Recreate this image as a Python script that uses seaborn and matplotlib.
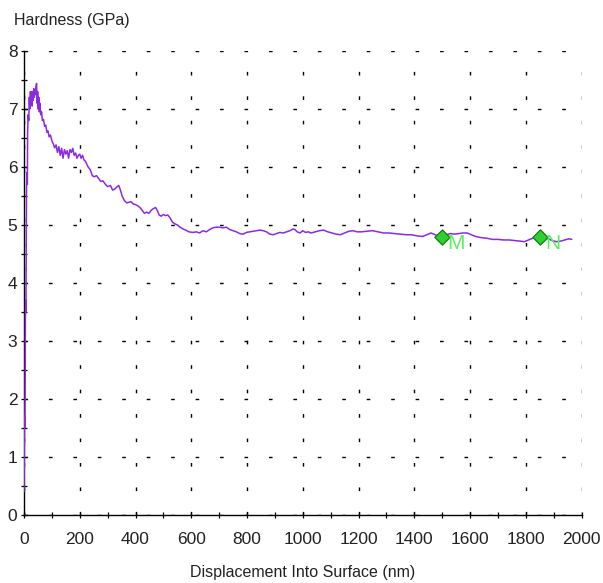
import matplotlib
matplotlib.use("Agg")
import matplotlib.pyplot as plt
from matplotlib.ticker import MultipleLocator
import seaborn as sns
import pandas as pd

# Hardness profile vs. indentation depth
depth_nm = [
    0, 1, 2, 3, 4, 5, 6, 7, 8, 9, 10, 12, 13, 15, 17, 19, 21, 23, 25, 27, 29,
    31, 33, 35, 37, 39, 41, 43, 45, 47, 49, 51, 53, 55, 57, 60, 63, 66, 70, 74,
    78, 82, 86, 90, 95, 100, 105, 110, 115, 120, 125, 130, 135, 140, 145, 150,
    155, 160, 165, 170, 175, 180, 185, 190, 195, 200, 205, 210, 215, 220, 225,
    230, 238, 245, 252, 260, 268, 275, 283, 292, 300, 310, 318, 326, 334, 340,
    346, 352, 360, 368, 376, 384, 392, 400, 408, 416, 424, 432, 440, 448, 456,
    464, 472, 478, 485, 492, 500, 508, 516, 524, 532, 540, 550, 560, 570, 580,
    592, 605, 618, 630, 642, 654, 666, 678, 690, 702, 714, 726, 738, 750, 762,
    774, 786, 798, 810, 822, 834, 846, 858, 870, 882, 894, 906, 918, 930, 942,
    954, 966, 972, 980, 990, 1000, 1010, 1020, 1030, 1045, 1060, 1075, 1090,
    1105, 1120, 1135, 1150, 1165, 1180, 1195, 1210, 1230, 1250, 1270, 1290,
    1310, 1330, 1350, 1370, 1390, 1410, 1430, 1445, 1460, 1475, 1490, 1500,
    1515, 1530, 1545, 1560, 1575, 1590, 1605, 1620, 1640, 1660, 1680, 1700,
    1720, 1740, 1760, 1780, 1795, 1810, 1825, 1840, 1850, 1865, 1880, 1895,
    1910, 1925, 1940, 1955, 1965,
]
hardness_gpa = [
    0.40, 0.90, 1.70, 1.50, 2.00, 3.40, 3.70, 3.50, 4.80, 5.60, 5.90, 5.70,
    6.60, 6.90, 6.80, 7.20, 7.00, 7.30, 7.10, 7.30, 7.05, 7.30, 7.15, 7.35,
    7.20, 7.30, 7.25, 7.38, 7.44, 7.10, 7.30, 7.00, 7.20, 6.95, 7.10, 6.90,
    6.95, 6.80, 6.82, 6.70, 6.72, 6.60, 6.62, 6.52, 6.55, 6.45, 6.40, 6.33,
    6.38, 6.25, 6.35, 6.20, 6.32, 6.15, 6.30, 6.22, 6.28, 6.15, 6.30, 6.25,
    6.32, 6.20, 6.24, 6.15, 6.20, 6.22, 6.15, 6.20, 6.12, 6.10, 6.05, 6.00,
    5.95, 5.85, 5.83, 5.85, 5.80, 5.75, 5.76, 5.70, 5.66, 5.68, 5.60, 5.62,
    5.66, 5.68, 5.60, 5.50, 5.42, 5.38, 5.39, 5.40, 5.36, 5.35, 5.33, 5.30,
    5.25, 5.20, 5.22, 5.20, 5.25, 5.28, 5.30, 5.25, 5.17, 5.15, 5.18, 5.16,
    5.17, 5.12, 5.05, 5.02, 5.00, 4.96, 4.93, 4.91, 4.88, 4.87, 4.88, 4.86,
    4.90, 4.88, 4.92, 4.95, 4.96, 4.96, 4.95, 4.96, 4.92, 4.90, 4.88, 4.85,
    4.84, 4.87, 4.88, 4.89, 4.90, 4.91, 4.90, 4.88, 4.84, 4.83, 4.85, 4.87,
    4.86, 4.88, 4.90, 4.93, 4.92, 4.88, 4.86, 4.90, 4.87, 4.88, 4.86, 4.88,
    4.90, 4.91, 4.88, 4.86, 4.84, 4.83, 4.86, 4.89, 4.90, 4.88, 4.88, 4.89,
    4.90, 4.88, 4.86, 4.86, 4.85, 4.84, 4.83, 4.83, 4.81, 4.80, 4.83, 4.86,
    4.83, 4.80, 4.79, 4.83, 4.85, 4.84, 4.85, 4.86, 4.86, 4.83, 4.80, 4.78,
    4.77, 4.75, 4.75, 4.74, 4.74, 4.73, 4.72, 4.71, 4.74, 4.77, 4.79, 4.79,
    4.78, 4.76, 4.73, 4.71, 4.72, 4.74, 4.76, 4.75,
]

# Marked points on the curve
marker_labels = ["M", "N"]
marker_depth = [1500, 1850]
marker_hardness = [4.79, 4.79]

x_ticks = [0, 200, 400, 600, 800, 1000, 1200, 1400, 1600, 1800, 2000]
y_ticks = [0, 1, 2, 3, 4, 5, 6, 7, 8]

curve = pd.DataFrame({"depth": depth_nm, "hardness": hardness_gpa})
marks = pd.DataFrame({"depth": marker_depth, "hardness": marker_hardness,
                      "label": marker_labels})

sns.set_style("ticks")
plt.rcParams["font.family"] = ["Liberation Sans", "DejaVu Sans"]
text_color = "#222222"

fig = plt.figure(figsize=(6.03, 5.83), dpi=100)
ax = fig.add_axes([24 / 603, 1 - 514.7 / 583, (581.5 - 24) / 603,
                   (514.7 - 51) / 583])

sns.lineplot(data=curve, x="depth", y="hardness", ax=ax, sort=False,
             estimator=None, color="#8a2be2", linewidth=1.1, zorder=3)
sns.scatterplot(data=marks, x="depth", y="hardness", ax=ax, marker="D",
                s=60, color="#2fcf2f", edgecolor="#137a13", linewidth=0.9,
                zorder=4)
for _, r in marks.iterrows():
    ax.annotate(r["label"], (r["depth"], r["hardness"]),
                xytext=(4, -4.5), textcoords="offset points",
                ha="left", va="center", fontsize=15, color="#5fee5f",
                zorder=5)

ax.set_xlim(0, 2000)
ax.set_ylim(0, 8)
ax.set_xticks(x_ticks)
ax.set_yticks(y_ticks)
ax.xaxis.set_minor_locator(MultipleLocator(100))
ax.yaxis.set_minor_locator(MultipleLocator(0.5))
ax.tick_params(which="both", direction="inout", length=4.5, width=0.9,
               color="black")
ax.tick_params(axis="x", which="major", pad=10, labelsize=12.5,
               labelcolor=text_color)
ax.tick_params(axis="y", which="major", pad=2.5, labelsize=12.5,
               labelcolor=text_color)

ax.grid(True, which="major", color="black", linewidth=1.0,
        linestyle=(0, (2.6, 15)))
ax.set_axisbelow(True)

for side in ("top", "right"):
    ax.spines[side].set_visible(False)
for side in ("left", "bottom"):
    ax.spines[side].set_color("black")
    ax.spines[side].set_linewidth(1.0)

ax.set_xlabel("Displacement Into Surface (nm)", fontsize=11.5,
              color=text_color, labelpad=13)
ax.set_ylabel("")
fig.text(14 / 603, 1 - 20.5 / 583, "Hardness (GPa)", fontsize=11.5,
         color=text_color, ha="left", va="center")

fig.savefig("out.png", dpi=100, facecolor="white")
